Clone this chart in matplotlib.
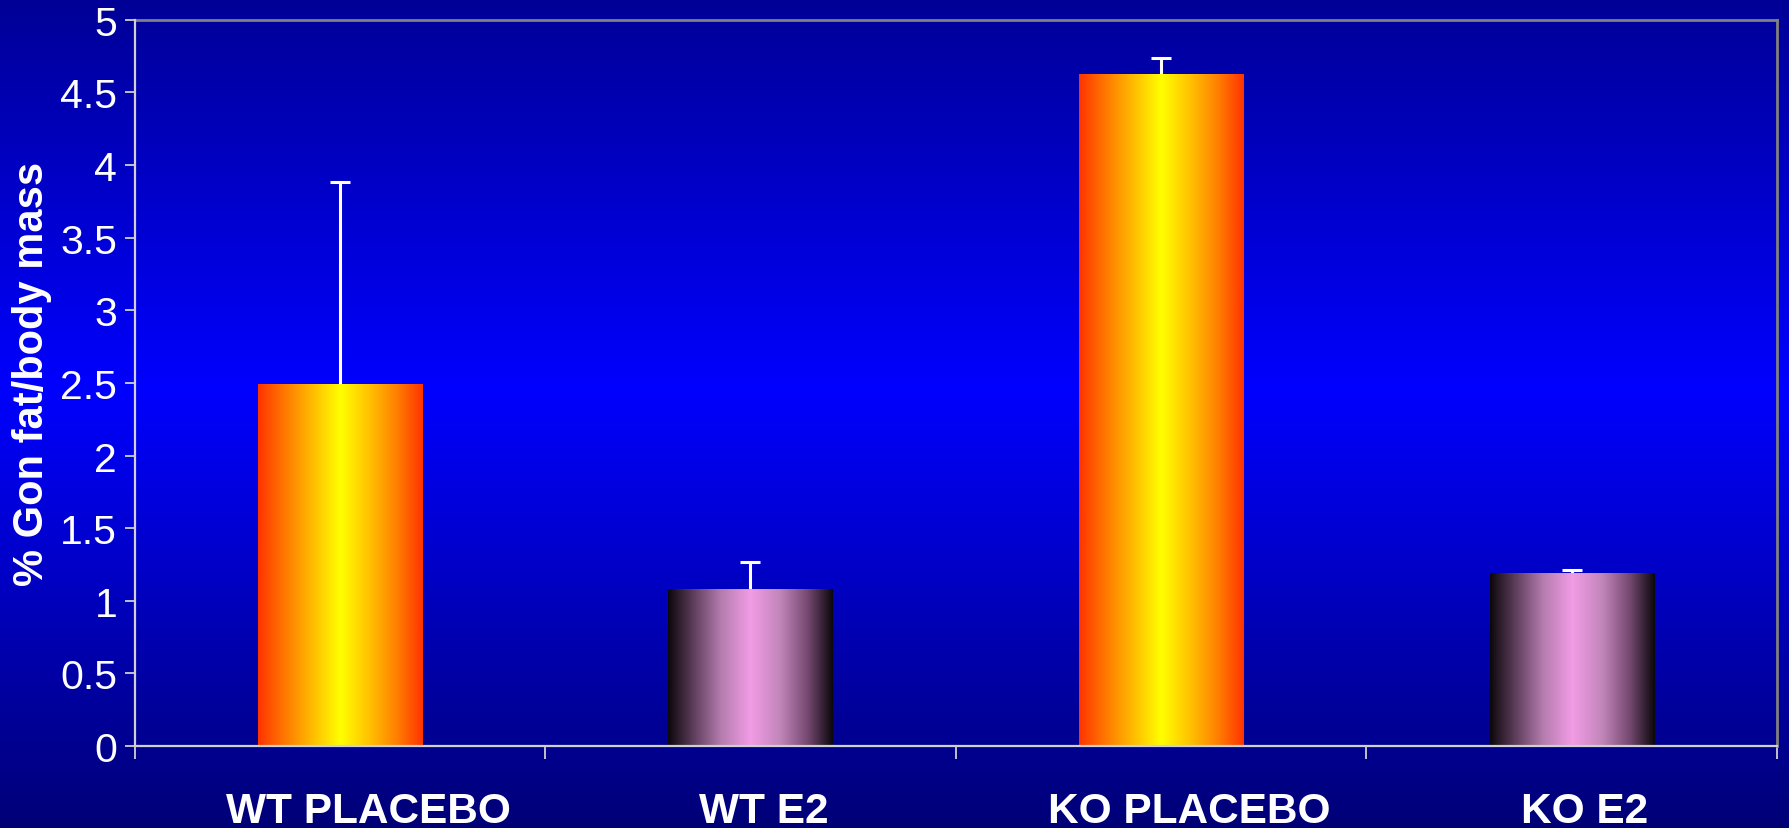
import numpy as np
import matplotlib
matplotlib.use("Agg")
import matplotlib.pyplot as plt
from matplotlib.colors import LinearSegmentedColormap

# ---- data ----
categories = ["WT PLACEBO", "WT E2", "KO PLACEBO", "KO E2"]
values = [2.49, 1.08, 4.63, 1.19]
errors = [1.39, 0.19, 0.11, 0.02]
bar_styles = ["warm", "pink", "warm", "pink"]
y_ticks = [0, 0.5, 1, 1.5, 2, 2.5, 3, 3.5, 4, 4.5, 5]
y_label = "% Gon fat/body mass"

plt.rcParams['font.family'] = ['Liberation Sans', 'DejaVu Sans']

W, H = 1789, 829
DPI = 100
fig = plt.figure(figsize=(W / DPI, H / DPI), dpi=DPI)

# background gradient
bg = fig.add_axes([0, 0, 1, 1], zorder=0)
bg_cmap = LinearSegmentedColormap.from_list(
    "bg", [(0.0, "#000096"), (0.47, "#0000FF"), (1.0, "#000076")])
bg.imshow(np.linspace(0, 1, 256).reshape(-1, 1), aspect="auto", cmap=bg_cmap,
          extent=[0, 1, 0, 1], origin="upper")
bg.set_axis_off()

left, right = 134.5 / W, 1777 / W
bottom, top = 1 - 747 / H, 1 - 20.8 / H
ax = fig.add_axes([left, bottom, right - left, top - bottom], zorder=1)
ax.set_facecolor("none")

x = np.arange(1, len(categories) + 1)
bars = ax.bar(x, values, width=0.40, color="none", edgecolor="none", zorder=2)

cmaps = {
    "warm": LinearSegmentedColormap.from_list("warm", [
        (0.0, "#FF3300"), (0.15, "#FF7400"), (0.32, "#FFB800"), (0.5, "#FFFF00"),
        (0.68, "#FFC000"), (0.85, "#FF7C00"), (1.0, "#FF3300")]),
    "pink": LinearSegmentedColormap.from_list("pink", [
        (0.0, "#0C080C"), (0.15, "#5C3C5A"), (0.32, "#B47CAE"), (0.5, "#F29CE6"),
        (0.68, "#C286BA"), (0.85, "#744870"), (1.0, "#0C080C")]),
}
grad = np.linspace(0, 1, 256).reshape(1, -1)
for b, style in zip(bars, bar_styles):
    x0, y0 = b.get_x(), b.get_y()
    w, h = b.get_width(), b.get_height()
    im = ax.imshow(grad, aspect="auto", cmap=cmaps[style],
                   extent=[x0, x0 + w, y0, y0 + h], zorder=2, interpolation="bilinear")
    im.set_clip_path(b)

eb = ax.errorbar(x, values, yerr=[np.zeros(len(errors)), errors], fmt="none",
                 ecolor="white", elinewidth=2.2, capsize=7, capthick=2.2, zorder=1)
# hide the lower caps (only the upper whisker is drawn)
caplines = eb[1]
if len(caplines) >= 2:
    caplines[0].set_visible(False)

ax.set_xlim(0.5, len(categories) + 0.5)
ax.set_ylim(0, 5)
ax.set_yticks(y_ticks)
ax.set_yticklabels([f"{t:g}" for t in y_ticks])
ax.tick_params(axis="y", colors="#D0D0D0", labelcolor="white", labelsize=29.5,
               length=7.5, width=1.3, pad=5, direction="out")

ax.set_xticks(np.arange(0.5, len(categories) + 1.0, 1.0))
ax.set_xticklabels([])
ax.tick_params(axis="x", which="major", colors="#D0D0D0", length=9.5, width=1.3,
               direction="out")

# category labels (slightly right of bar centres, as in the original)
cat_texts = []
for xi, cat in zip(x, categories):
    t = ax.annotate(cat, xy=(xi, 0), xycoords=("data", "axes fraction"),
                    xytext=(0, -32.4), textcoords="offset points",
                    ha="center", va="top", fontsize=30.5, fontweight="bold",
                    color="white", annotation_clip=False)
    cat_texts.append(t)
fig.canvas.draw()
renderer = fig.canvas.get_renderer()
for t in cat_texts:
    wpx = t.get_window_extent(renderer).width
    t.xyann = (0.1 * wpx * 72 / DPI, -32.4)

ax.set_ylabel(y_label, fontsize=30, fontweight="bold", color="white", va="center")
ax.yaxis.set_label_coords((32 - 134.5) / (1777 - 134.5), (747 - 374) / (747 - 20.8))

for s in ["left", "bottom"]:
    ax.spines[s].set_color("#D0D0D0")
    ax.spines[s].set_linewidth(1.6)
    ax.spines[s].set_zorder(3)
for s in ["top", "right"]:
    ax.spines[s].set_color("#808080")
    ax.spines[s].set_linewidth(2.0)

fig.savefig("out.png", dpi=DPI)
